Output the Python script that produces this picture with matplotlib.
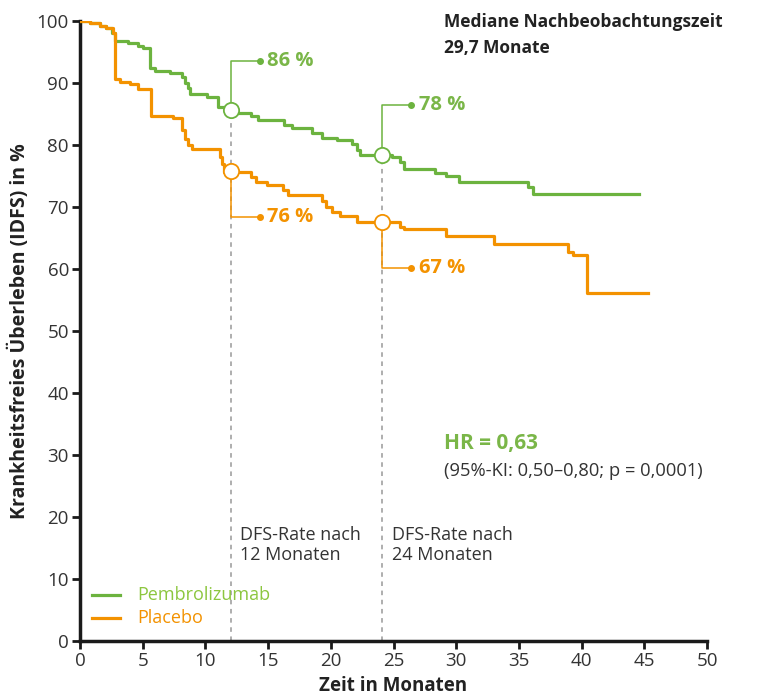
import matplotlib
matplotlib.use("Agg")
import matplotlib.pyplot as plt

plt.rcParams['font.family'] = ['Open Sans', 'DejaVu Sans']

GREEN = '#6cb33f'
GREEN_T = '#7ab648'
ORANGE = '#f39200'
GRAY = '#333333'

green_t = [0, 0.8, 1.6, 2.1, 2.55, 2.8, 3.8, 4.6, 5.0, 5.6, 6.0, 7.2, 8.1, 8.4, 8.6, 8.8,
           10.1, 11.0, 11.9, 12.5, 13.6, 14.2, 16.3, 16.9, 18.5, 19.3, 20.5, 21.7, 22.1, 22.3,
           24.9, 25.5, 25.8, 28.3, 29.2, 30.2, 35.7, 36.1, 44.6]
green_v = [100, 99.6, 99.2, 98.9, 98.0, 96.8, 96.5, 96.0, 95.6, 92.4, 92.0, 91.6, 91.0, 90.0, 89.2, 88.3,
           87.7, 86.2, 85.6, 85.1, 84.6, 84.0, 83.3, 82.7, 82.0, 81.2, 80.8, 80.1, 79.2, 78.4,
           78.0, 77.3, 76.1, 75.5, 75.0, 74.1, 73.2, 72.1, 72.1]

orange_t = [0, 0.8, 1.6, 2.1, 2.6, 2.8, 3.2, 4.0, 4.6, 5.7, 7.4, 8.1, 8.4, 8.6, 8.9, 11.2, 11.3, 11.5,
            13.6, 14.0, 14.9, 16.2, 16.6, 19.3, 19.6, 20.1, 20.7, 22.1, 25.5, 25.8, 29.2, 33.0,
            38.9, 39.3, 40.4, 45.3]
orange_v = [100, 99.6, 99.2, 98.9, 98.0, 90.7, 90.2, 89.8, 89.0, 84.7, 84.3, 82.5, 81.0, 80.0, 79.4, 78.0, 77.0, 75.7,
            74.9, 74.1, 73.5, 72.7, 72.0, 70.9, 70.0, 69.2, 68.6, 67.6, 66.8, 66.4, 65.4, 64.1,
            62.8, 62.3, 56.2, 56.2]

mark_t = [12.05, 24.1]
green_mark = [85.6, 78.4]
orange_mark = [75.8, 67.6]
green_labels = ['86 %', '78 %']
orange_labels = ['76 %', '67 %']

fig = plt.figure(figsize=(7.68, 6.95), dpi=100)
ax = fig.add_axes([80/768, 54/695, 627/768, 620/695])

# dashed verticals
for t, g in zip(mark_t, green_mark):
    ax.plot([t, t], [0, g], ls=(0, (3, 3)), color='#999999', lw=1.1, zorder=1)

ax.plot(green_t, green_v, drawstyle='steps-post', color=GREEN, lw=2.3, zorder=3, label='Pembrolizumab')
ax.plot(orange_t, orange_v, drawstyle='steps-post', color=ORANGE, lw=2.3, zorder=3, label='Placebo')

for t, g, o, gl, ol in zip(mark_t, green_mark, orange_mark, green_labels, orange_labels):
    gy = g + 8
    oy = o - 7.4
    xe = t + 2.3
    ax.plot([t, t, xe], [g, gy, gy], color=GREEN, lw=1.1, zorder=2)
    ax.plot([xe], [gy], 'o', color=GREEN, ms=4, zorder=4)
    ax.text(xe + 0.6, gy, gl, color=GREEN_T, fontsize=14.5, fontweight='bold', va='center', ha='left')
    ax.plot([t, t, xe], [o, oy, oy], color=ORANGE, lw=1.1, zorder=2)
    ax.plot([xe], [oy], 'o', color=ORANGE, ms=4, zorder=4)
    ax.text(xe + 0.6, oy, ol, color=ORANGE, fontsize=14.5, fontweight='bold', va='center', ha='left')
    ax.plot([t], [g], 'o', ms=11, mfc='white', mec=GREEN, mew=1.3, zorder=5)
    ax.plot([t], [o], 'o', ms=11, mfc='white', mec=ORANGE, mew=1.3, zorder=5)

ax.text(12.75, 18.6, 'DFS-Rate nach\n12 Monaten', fontsize=13, color=GRAY, va='top', ha='left', linespacing=1.2)
ax.text(24.85, 18.6, 'DFS-Rate nach\n24 Monaten', fontsize=13, color=GRAY, va='top', ha='left', linespacing=1.2)

ax.text(29.0, 31.8, 'HR = 0,63', fontsize=15, color=GREEN_T, fontweight='bold', va='center', ha='left')
ax.text(29.0, 27.4, '(95%-KI: 0,50–0,80; p = 0,0001)', fontsize=13.2, color=GRAY, va='center', ha='left')

ax.text(29.0, 97.7, 'Mediane Nachbeobachtungszeit\n29,7 Monate', fontsize=12.5, color='#222222',
        fontweight='bold', va='center', ha='left', linespacing=1.6)

# legend
ax.plot([0.96, 3.2], [7.4, 7.4], color=GREEN, lw=2.3)
ax.plot([0.96, 3.2], [3.7, 3.7], color=ORANGE, lw=2.3)
ax.text(4.6, 7.4, 'Pembrolizumab', color='#8cc63f', fontsize=13, va='center', ha='left')
ax.text(4.6, 3.7, 'Placebo', color=ORANGE, fontsize=13, va='center', ha='left')

ax.set_xlim(0, 50)
ax.set_ylim(0, 100)
ax.set_xticks(range(0, 51, 5))
ax.set_yticks(range(0, 101, 10))
for s in ['top', 'right']:
    ax.spines[s].set_visible(False)
for s in ['left', 'bottom']:
    ax.spines[s].set_linewidth(2.5)
    ax.spines[s].set_color('#1a1a1a')
ax.tick_params(axis='both', length=6, width=2, color='#1a1a1a', labelsize=13.5, labelcolor=GRAY, pad=2)
ax.set_xlabel('Zeit in Monaten', fontsize=13.5, fontweight='bold', color='#222222', labelpad=4)
ax.set_ylabel('Krankheitsfreies Überleben (IDFS) in %', fontsize=14, fontweight='bold', color='#222222', labelpad=5)

fig.savefig('out.png', dpi=100)
